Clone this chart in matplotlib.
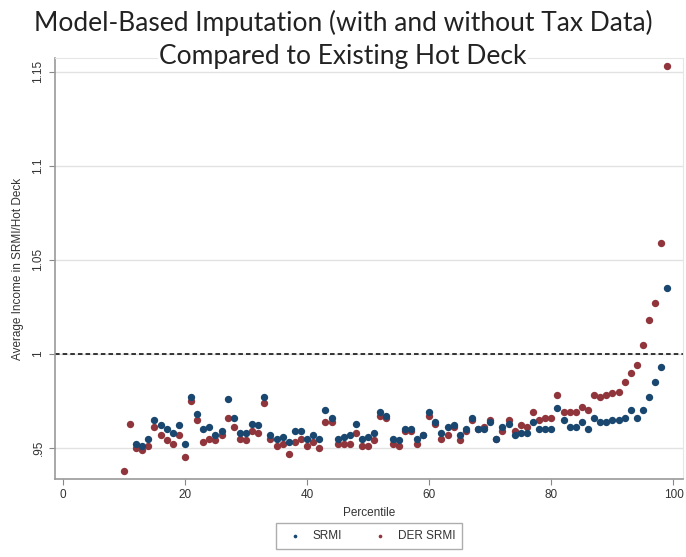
import matplotlib
matplotlib.use("Agg")
import matplotlib.pyplot as plt
import numpy as np

# Percentiles and ratios (imputed average income / hot deck)
percentiles = list(range(10, 100))
srmi = [np.nan, np.nan, 0.952, 0.951, 0.955, 0.965, 0.962, 0.960, 0.958, 0.962,
        0.952, 0.977, 0.968, 0.960, 0.961, 0.957, 0.959, 0.976, 0.966, 0.958,
        0.958, 0.963, 0.962, 0.977, 0.957, 0.955, 0.956, 0.953, 0.959, 0.959,
        0.955, 0.957, 0.955, 0.970, 0.966, 0.955, 0.956, 0.957, 0.963, 0.955,
        0.956, 0.958, 0.969, 0.967, 0.955, 0.954, 0.960, 0.960, 0.955, 0.957,
        0.969, 0.964, 0.958, 0.961, 0.962, 0.957, 0.960, 0.966, 0.960, 0.960,
        0.964, 0.955, 0.961, 0.963, 0.957, 0.958, 0.958, 0.964, 0.960, 0.960,
        0.960, 0.971, 0.965, 0.961, 0.961, 0.964, 0.960, 0.966, 0.964, 0.964,
        0.965, 0.965, 0.966, 0.970, 0.966, 0.970, 0.977, 0.985, 0.993, 1.035]
der_srmi = [0.938, 0.963, 0.950, 0.949, 0.951, 0.961, 0.957, 0.954, 0.952, 0.957,
            0.945, 0.975, 0.965, 0.953, 0.955, 0.954, 0.957, 0.966, 0.961, 0.955,
            0.954, 0.959, 0.958, 0.974, 0.955, 0.951, 0.952, 0.947, 0.953, 0.955,
            0.951, 0.953, 0.950, 0.964, 0.964, 0.952, 0.952, 0.952, 0.958, 0.951,
            0.951, 0.954, 0.967, 0.966, 0.952, 0.951, 0.959, 0.959, 0.952, 0.957,
            0.967, 0.963, 0.955, 0.957, 0.961, 0.954, 0.959, 0.965, 0.960, 0.961,
            0.965, 0.955, 0.959, 0.965, 0.959, 0.962, 0.961, 0.969, 0.965, 0.966,
            0.966, 0.978, 0.969, 0.969, 0.969, 0.972, 0.970, 0.978, 0.977, 0.978,
            0.979, 0.980, 0.985, 0.990, 0.994, 1.005, 1.018, 1.027, 1.059, 1.153]
yticks = [0.95, 1.0, 1.05, 1.1, 1.15]
ytick_labels = [".95", "1", "1.05", "1.1", "1.15"]
xticks = [0, 20, 40, 60, 80, 100]

blue = "#1a476f"
red = "#90353b"

plt.rcParams["font.family"] = ["Liberation Sans", "DejaVu Sans"]

fig = plt.figure(figsize=(6.86, 5.57), dpi=100)
ax = fig.add_axes([0.080, 0.140, 0.916, 0.756])

# red first so the blue markers sit on top where they overlap
h2 = ax.scatter(percentiles, der_srmi, s=28, color=red, zorder=3, linewidths=0)
h1 = ax.scatter(percentiles, srmi, s=28, color=blue, zorder=4, linewidths=0)

ax.axhline(1.0, color="black", linestyle=(0, (3, 2)), linewidth=1.1, zorder=2)

ax.set_xlim(-1.3, 101.6)
ax.set_ylim(0.9335, 1.1574)
ax.set_xticks(xticks)
ax.set_yticks(yticks)
ax.set_yticklabels(ytick_labels, rotation=90, va="center")
ax.tick_params(colors="#888888", labelcolor="#333333", labelsize=8.5, length=4)
ax.grid(True, axis="y", color="#e2e2e2", linewidth=1.0)
ax.set_axisbelow(True)

for s in ["top", "right"]:
    ax.spines[s].set_color("#e6e6e6")
for s in ["left", "bottom"]:
    ax.spines[s].set_color("#999999")
    ax.spines[s].set_linewidth(1.2)

ax.set_xlabel("Percentile", fontsize=8.5, color="#333333", labelpad=4)
ax.set_ylabel("Average Income in SRMI/Hot Deck", fontsize=8.5, color="#333333", labelpad=6)

fig.text(0.5, 0.958, "Model-Based Imputation (with and without Tax Data)",
         ha="center", va="center", fontsize=19, family="Lato", color="#222222")
fig.text(0.5, 0.899, "Compared to Existing Hot Deck",
         ha="center", va="center", fontsize=19, family="Lato", color="#222222",
         bbox=dict(facecolor="white", edgecolor="none", pad=1), zorder=10)

leg = fig.legend([h1, h2], ["SRMI", "DER SRMI"], loc="lower center",
                 bbox_to_anchor=(0.538, 0.003), ncol=2, fontsize=8.5,
                 markerscale=0.5, frameon=True, fancybox=False,
                 handletextpad=0.5, columnspacing=2.2, borderpad=0.6)
leg.get_frame().set_edgecolor("#999999")
for t in leg.get_texts():
    t.set_color("#333333")

fig.savefig("out.png", dpi=100)
